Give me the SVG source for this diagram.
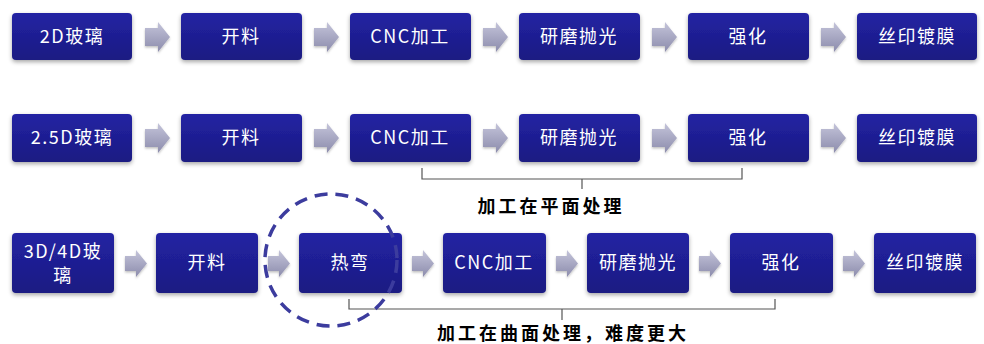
<svg xmlns="http://www.w3.org/2000/svg" width="984" height="344" viewBox="0 0 984 344">
<style>
.box{fill:url(#bg);filter:url(#sh)}
.t{fill:#ffffff;font-family:"Noto Sans CJK SC","Noto Sans CJK JP",sans-serif;font-size:18px;text-anchor:middle;letter-spacing:1.5px}
.arr{fill:url(#ag);filter:url(#sh2)}
.br{fill:none;stroke:#555555;stroke-width:1.2}
.lab{fill:#000000;font-family:"Noto Sans CJK SC","Noto Sans CJK JP",sans-serif;font-size:18px;font-weight:bold;text-anchor:middle;letter-spacing:3px}
</style>
<defs>
<linearGradient id="bg" x1="0" y1="0" x2="0" y2="1">
<stop offset="0" stop-color="#2323a3"/>
<stop offset="1" stop-color="#1a1a82"/>
</linearGradient>
<linearGradient id="ag" x1="0" y1="0" x2="0" y2="1">
<stop offset="0" stop-color="#c4c4da"/>
<stop offset="1" stop-color="#8c8cac"/>
</linearGradient>
<filter id="sh" x="-10%" y="-20%" width="120%" height="150%">
<feDropShadow dx="0" dy="2" stdDeviation="2" flood-color="#000" flood-opacity="0.35"/>
</filter>
<filter id="sh2" x="-20%" y="-20%" width="140%" height="150%">
<feDropShadow dx="0" dy="1.5" stdDeviation="1.2" flood-color="#000" flood-opacity="0.25"/>
</filter>
<path id="a1" d="M0,6 H13 V0 L25,15 L13,30 V24 H0 Z"/>
<path id="a3" d="M0,6 H11 V0 L22,13.5 L11,27 V21 H0 Z"/>
</defs>

<g id="connectors">
<use href="#a1" class="arr" x="145" y="22"/>
<use href="#a1" class="arr" x="314" y="22"/>
<use href="#a1" class="arr" x="483" y="22"/>
<use href="#a1" class="arr" x="652" y="22"/>
<use href="#a1" class="arr" x="821" y="22"/>
<use href="#a1" class="arr" x="145" y="123"/>
<use href="#a1" class="arr" x="314" y="123"/>
<use href="#a1" class="arr" x="483" y="123"/>
<use href="#a1" class="arr" x="652" y="123"/>
<use href="#a1" class="arr" x="821" y="123"/>
<use href="#a3" class="arr" x="125" y="250"/>
<use href="#a3" class="arr" x="268" y="250"/>
<use href="#a3" class="arr" x="412" y="250"/>
<use href="#a3" class="arr" x="556" y="250"/>
<use href="#a3" class="arr" x="699" y="250"/>
<use href="#a3" class="arr" x="843" y="250"/>
<path class="br" d="M422,168 V179 H742 V168 M582,179 V189"/>
<path class="br" d="M349,299 V309 H775 V299 M562,309 V320"/>
</g>

<g id="r1n1"><rect class="box" x="12" y="13" width="120" height="47" rx="4"/><text class="t" x="72" y="43">2D玻璃</text></g>
<g id="r1n2"><rect class="box" x="181" y="13" width="121" height="47" rx="4"/><text class="t" x="241" y="43">开料</text></g>
<g id="r1n3"><rect class="box" x="350" y="13" width="121" height="47" rx="4"/><text class="t" x="410" y="43">CNC加工</text></g>
<g id="r1n4"><rect class="box" x="519" y="13" width="121" height="47" rx="4"/><text class="t" x="579" y="43">研磨抛光</text></g>
<g id="r1n5"><rect class="box" x="688" y="13" width="121" height="47" rx="4"/><text class="t" x="748" y="43">强化</text></g>
<g id="r1n6"><rect class="box" x="857" y="13" width="120" height="47" rx="4"/><text class="t" x="917" y="43">丝印镀膜</text></g>

<g id="r2n1"><rect class="box" x="12" y="114" width="120" height="48" rx="4"/><text class="t" x="72" y="144">2.5D玻璃</text></g>
<g id="r2n2"><rect class="box" x="181" y="114" width="121" height="48" rx="4"/><text class="t" x="241" y="144">开料</text></g>
<g id="r2n3"><rect class="box" x="350" y="114" width="121" height="48" rx="4"/><text class="t" x="410" y="144">CNC加工</text></g>
<g id="r2n4"><rect class="box" x="519" y="114" width="121" height="48" rx="4"/><text class="t" x="579" y="144">研磨抛光</text></g>
<g id="r2n5"><rect class="box" x="688" y="114" width="121" height="48" rx="4"/><text class="t" x="748" y="144">强化</text></g>
<g id="r2n6"><rect class="box" x="857" y="114" width="120" height="48" rx="4"/><text class="t" x="917" y="144">丝印镀膜</text></g>

<g id="r3n1"><rect class="box" x="12" y="233" width="102" height="60" rx="4"/><text class="t" x="63" y="258">3D/4D玻</text><text class="t" x="63" y="282">璃</text></g>
<g id="r3n2"><rect class="box" x="156" y="233" width="102" height="60" rx="4"/><text class="t" x="207" y="269">开料</text></g>
<g id="r3n3"><rect class="box" x="299" y="233" width="103" height="60" rx="4"/><text class="t" x="350" y="269">热弯</text></g>
<g id="r3n4"><rect class="box" x="443" y="233" width="103" height="60" rx="4"/><text class="t" x="494" y="269">CNC加工</text></g>
<g id="r3n5"><rect class="box" x="587" y="233" width="102" height="60" rx="4"/><text class="t" x="638" y="269">研磨抛光</text></g>
<g id="r3n6"><rect class="box" x="730" y="233" width="103" height="60" rx="4"/><text class="t" x="781" y="269">强化</text></g>
<g id="r3n7"><rect class="box" x="874" y="233" width="102" height="60" rx="4"/><text class="t" x="925" y="269">丝印镀膜</text></g>

<g id="highlight"><circle cx="331" cy="260" r="66" fill="none" stroke="#3c3c9e" stroke-width="3.5" stroke-dasharray="13 8"/></g>

<g id="labels">
<text class="lab" x="551" y="213">加工在平面处理</text>
<text class="lab" x="563" y="340">加工在曲面处理，难度更大</text>
</g>
</svg>
